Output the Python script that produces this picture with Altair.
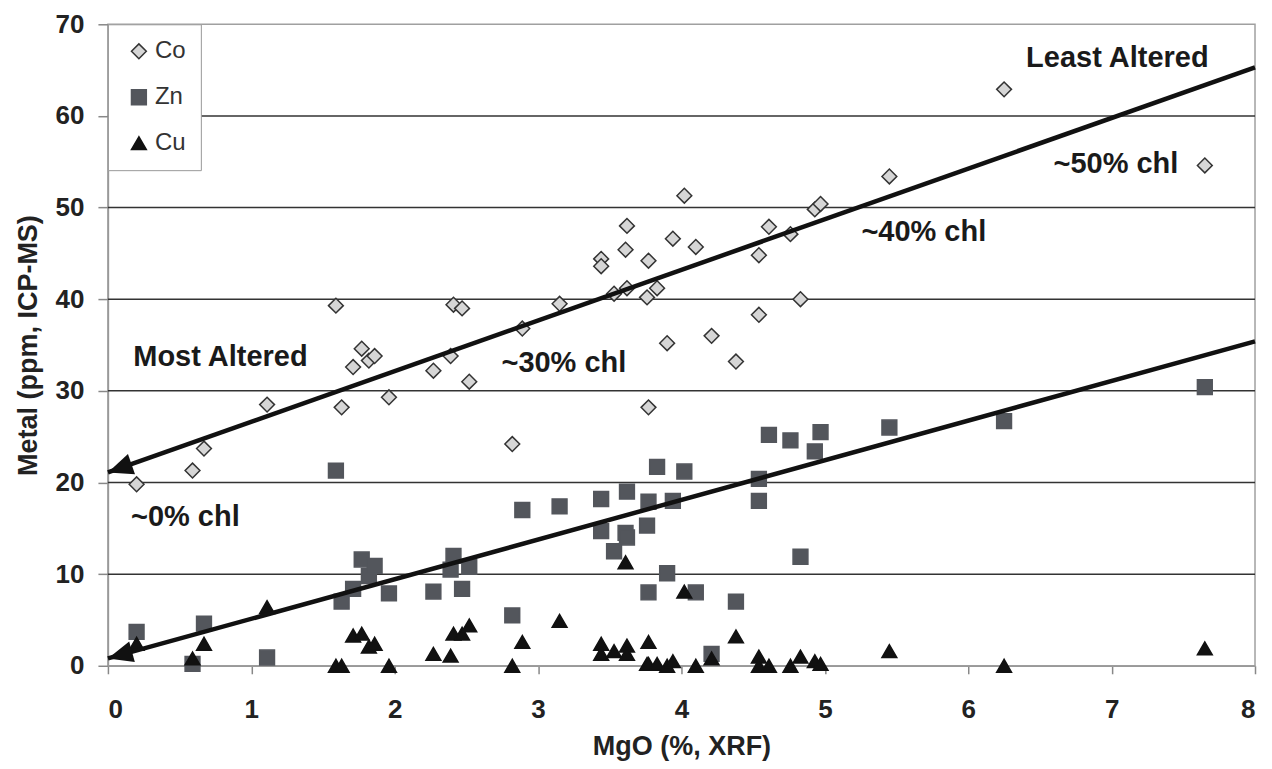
import altair as alt
import pandas as pd

# ---- data ----
mgo = [0.20, 0.59, 0.67, 1.11, 1.59, 1.63, 1.71, 1.77, 1.82, 1.86, 1.96, 2.27, 2.39, 2.41, 2.47,
       2.52, 2.82, 2.89, 3.15, 3.44, 3.44, 3.53, 3.61, 3.62, 3.62, 3.76, 3.77, 3.77, 3.83, 3.90,
       3.94, 4.02, 4.10, 4.21, 4.38, 4.54, 4.54, 4.61, 4.76, 4.83, 4.93, 4.97, 5.45, 6.25, 7.65]
co = [19.8, 21.3, 23.7, 28.5, 39.3, 28.2, 32.6, 34.6, 33.3, 33.8, 29.3, 32.2, 33.8, 39.4, 39.0,
      31.0, 24.2, 36.8, 39.5, 44.4, 43.6, 40.6, 45.4, 41.2, 48.0, 40.2, 28.2, 44.2, 41.2, 35.2,
      46.6, 51.3, 45.7, 36.0, 33.2, 44.8, 38.3, 47.9, 47.1, 40.0, 49.8, 50.4, 53.4, 62.9, 54.6]
zn = [3.7, 0.2, 4.6, 0.9, 21.3, 7.0, 8.4, 11.6, 9.8, 10.9, 7.9, 8.1, 10.5, 12.0, 8.4,
      10.8, 5.5, 17.0, 17.4, 18.2, 14.7, 12.5, 14.5, 14.0, 19.0, 15.3, 17.9, 8.0, 21.7, 10.1,
      18.0, 21.2, 8.0, 1.3, 7.0, 20.4, 18.0, 25.2, 24.6, 11.9, 23.4, 25.5, 26.0, 26.7, 30.4]
cu = [2.4, 0.8, 2.4, 6.4, 0.0, 0.0, 3.3, 3.5, 2.1, 2.4, 0.0, 1.3, 1.1, 3.5, 3.5,
      4.4, 0.0, 2.6, 4.9, 2.4, 1.3, 1.6, 11.3, 2.2, 1.3, 0.2, 2.6, 0.2, 0.2, 0.0,
      0.5, 8.1, 0.0, 0.8, 3.2, 1.0, 0.0, 0.0, 0.0, 1.0, 0.5, 0.2, 1.6, 0.0, 1.9]
metals = ["Co", "Zn", "Cu"]

line_names = ["Co trend", "Co trend", "Zn trend", "Zn trend"]
line_x = [0.0, 8.0, 0.0, 8.0]
line_y = [21.1, 65.3, 0.8, 35.4]

arrow_x = [0.0, 0.0]
arrow_y = [21.1, 0.8]
arrow_angle = [340.6, 344.6]

grid_y = [10, 20, 30, 40, 50, 60]

ann_text = ["Least Altered", "~50% chl", "~40% chl", "~30% chl", "Most Altered", "~0% chl"]
ann_x = [7.04, 7.03, 5.69, 3.18, 0.785, 0.54]
ann_y = [65.3, 53.8, 46.3, 32.1, 32.7, 15.2]

# ---- tables ----
rows = []
for name, vals in zip(metals, [co, zn, cu]):
    for xv, yv in zip(mgo, vals):
        rows.append({"mgo": xv, "val": yv, "metal": name})
pts = pd.DataFrame(rows)
lines_df = pd.DataFrame({"mgo": line_x, "val": line_y, "trend": line_names})
arrows_df = pd.DataFrame({"mgo": arrow_x, "val": arrow_y, "ang": arrow_angle})
grid_df = pd.DataFrame({"val": grid_y})
ann_df = pd.DataFrame({"mgo": ann_x, "val": ann_y, "txt": ann_text})

FONT = "Liberation Sans"

x_axis = alt.Axis(values=list(range(0, 9)), tickSize=8, labelPadding=23, titlePadding=11,
                  format="d")
y_axis = alt.Axis(values=list(range(0, 71, 10)), tickSize=10, labelPadding=14, titlePadding=13,
                  format="d")


def xenc():
    return alt.X("mgo:Q", scale=alt.Scale(domain=[0, 8], nice=False), axis=x_axis,
                 title="MgO (%, XRF)")


def yenc():
    return alt.Y("val:Q", scale=alt.Scale(domain=[0, 70], nice=False), axis=y_axis,
                 title="Metal (ppm, ICP-MS)")


grid = alt.Chart(grid_df).mark_rule(color="#333333", strokeWidth=1.5).encode(y=yenc())

leg = alt.Legend(title=None, orient="none", legendX=0, legendY=0, padding=15, rowPadding=22,
                 labelFontSize=24, labelFont=FONT, labelColor="#333333", symbolSize=220,
                 symbolStrokeWidth=1.5, fillColor="white", strokeColor="#999999",
                 labelOffset=4, symbolOffset=4)

points = alt.Chart(pts).mark_point(filled=True, opacity=1, size=220, strokeWidth=1.5).encode(
    x=xenc(),
    y=yenc(),
    shape=alt.Shape("metal:N", scale=alt.Scale(domain=metals,
                    range=["diamond", "square", "triangle-up"]), legend=leg),
    fill=alt.Fill("metal:N", scale=alt.Scale(domain=metals,
                  range=["#d6d6d6", "#53565c", "#111111"]), legend=leg),
    stroke=alt.Stroke("metal:N", scale=alt.Scale(domain=metals,
                      range=["#333333", "#53565c", "#111111"]), legend=leg),
)

lines = alt.Chart(lines_df).mark_line(color="#111111", strokeWidth=4.5).encode(
    x=xenc(), y=yenc(), detail="trend:N")

arrows = alt.Chart(arrows_df).mark_point(
    shape="M0,0L2,-0.85L2,0.85Z", filled=True, opacity=1, size=625, color="#111111"
).encode(x=xenc(), y=yenc(), angle=alt.Angle("ang:Q", scale=None))

texts = alt.Chart(ann_df).mark_text(
    font=FONT, fontSize=29, fontWeight="bold", color="#1a1a1a", align="center",
    baseline="alphabetic"
).encode(x=xenc(), y=yenc(), text="txt:N")

chart = alt.layer(grid, points, lines, arrows, texts).properties(
    width=1148, height=642,
    padding={"left": 6, "top": 3, "right": 0, "bottom": 5},
    background="white",
).configure_view(
    stroke="#a0a0a0", strokeWidth=1.5
).configure_axis(
    labelFont=FONT, labelFontWeight="bold", labelFontSize=26, labelColor="#222222",
    titleFont=FONT, titleFontWeight="bold", titleFontSize=27, titleColor="#222222",
    domainColor="#999999", domainWidth=1.5, tickColor="#888888", tickWidth=1.5, grid=False
)

chart.save("out.html", embed_options={"renderer": "svg", "actions": False})
